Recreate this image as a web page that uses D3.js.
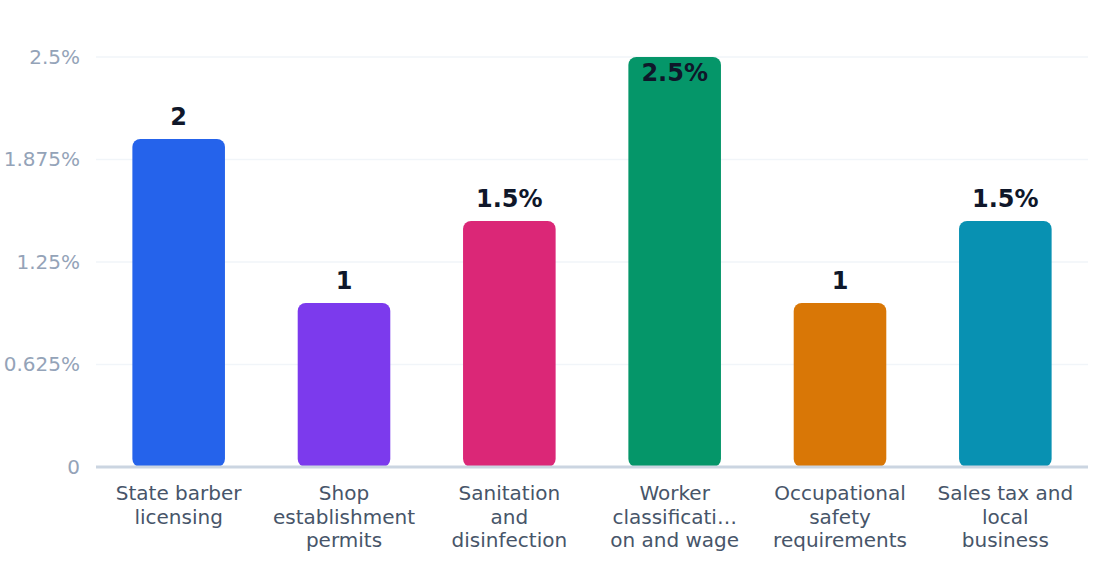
<!DOCTYPE html>
<html>
<head>
<meta charset="utf-8">
<script src="https://cdn.jsdelivr.net/npm/d3@7"></script>
<style>
    html, body { margin: 0; padding: 0; background: #fff; }
    svg, svg text { font-family: "DejaVu Sans", sans-serif; }
    svg { display: block; }
</style>
</head>
<body>
<div id="chart"></div>
<script>
    const FONT = '"DejaVu Sans", sans-serif';

    const categories = [
        'State barber licensing',
        'Shop establishment permits',
        'Sanitation and disinfection',
        'Worker classification and wage',
        'Occupational safety requirements',
        'Sales tax and local business'
    ];
    const tickLines = [
        ['State barber', 'licensing'],
        ['Shop', 'establishment', 'permits'],
        ['Sanitation', 'and', 'disinfection'],
        ['Worker', 'classificati\u2026', 'on and wage'],
        ['Occupational', 'safety', 'requirements'],
        ['Sales tax and', 'local', 'business']
    ];
    const values = [2, 1, 1.5, 2.5, 1, 1.5];
    const valueLabels = ['2', '1', '1.5%', '2.5%', '1', '1.5%'];
    const yTicks = [0, 0.625, 1.25, 1.875, 2.5];
    const yTickLabels = ['0', '0.625%', '1.25%', '1.875%', '2.5%'];
    const barColors = ['#2563eb', '#7c3aed', '#db2777', '#059669', '#d97706', '#0891b2'];

    const W = 1120, H = 584;
    const margin = { top: 57, right: 32, bottom: 117, left: 96 };
    const width = W - margin.left - margin.right;
    const height = H - margin.top - margin.bottom;

    const svg = d3.select('#chart').append('svg')
        .attr('width', W)
        .attr('height', H)
        .append('g')
        .attr('transform', `translate(${margin.left},${margin.top})`);

    const x = d3.scaleBand()
        .domain(categories)
        .range([0, width])
        .paddingInner(0.44)
        .paddingOuter(0.22);

    const y = d3.scaleLinear()
        .domain([0, 2.5])
        .range([height, 0]);

    // grid lines
    svg.append('g')
        .selectAll('line')
        .data(yTicks.slice(1))
        .enter()
        .append('line')
        .attr('x1', 0)
        .attr('x2', width)
        .attr('y1', d => y(d))
        .attr('y2', d => y(d))
        .attr('stroke', '#f1f5f9')
        .attr('stroke-width', 1.5);

    // y axis labels
    const yAxis = d3.axisLeft(y)
        .tickValues(yTicks)
        .tickSize(0)
        .tickPadding(16)
        .tickFormat((d, i) => yTickLabels[i]);

    const yg = svg.append('g').call(yAxis).attr('font-family', FONT);
    yg.select('.domain').remove();
    yg.selectAll('text')
        .attr('fill', '#94a3b8')
        .style('font-size', '20px');

    // bars
    svg.append('g')
        .selectAll('rect')
        .data(values)
        .enter()
        .append('rect')
        .attr('x', (d, i) => x(categories[i]))
        .attr('y', d => y(d))
        .attr('width', x.bandwidth())
        .attr('height', d => y(0) - y(d))
        .attr('rx', 8)
        .attr('fill', (d, i) => barColors[i]);

    // baseline
    svg.append('line')
        .attr('x1', 0)
        .attr('x2', width)
        .attr('y1', y(0))
        .attr('y2', y(0))
        .attr('stroke', '#cbd5e1')
        .attr('stroke-width', 3);

    // value labels, kept inside the plot when the bar hits the top
    svg.append('g')
        .selectAll('text')
        .data(values)
        .enter()
        .append('text')
        .attr('x', (d, i) => x(categories[i]) + x.bandwidth() / 2)
        .attr('y', d => Math.max(y(d) - 14, 24))
        .attr('text-anchor', 'middle')
        .attr('fill', '#0f172a')
        .style('font-size', '24px')
        .style('font-weight', 'bold')
        .text((d, i) => valueLabels[i]);

    // category labels
    const xAxis = d3.axisBottom(x).tickSize(0).tickFormat('');
    const xg = svg.append('g')
        .attr('transform', `translate(0,${height})`)
        .call(xAxis)
        .attr('font-family', FONT);
    xg.select('.domain').remove();

    xg.selectAll('.tick')
        .append('text')
        .attr('fill', '#475569')
        .attr('text-anchor', 'middle')
        .style('font-size', '20px')
        .selectAll('tspan')
        .data((d, i) => tickLines[i])
        .enter()
        .append('tspan')
        .attr('x', 0)
        .attr('y', (d, j) => 33 + j * 23.5)
        .text(d => d);
</script>
</body>
</html>
